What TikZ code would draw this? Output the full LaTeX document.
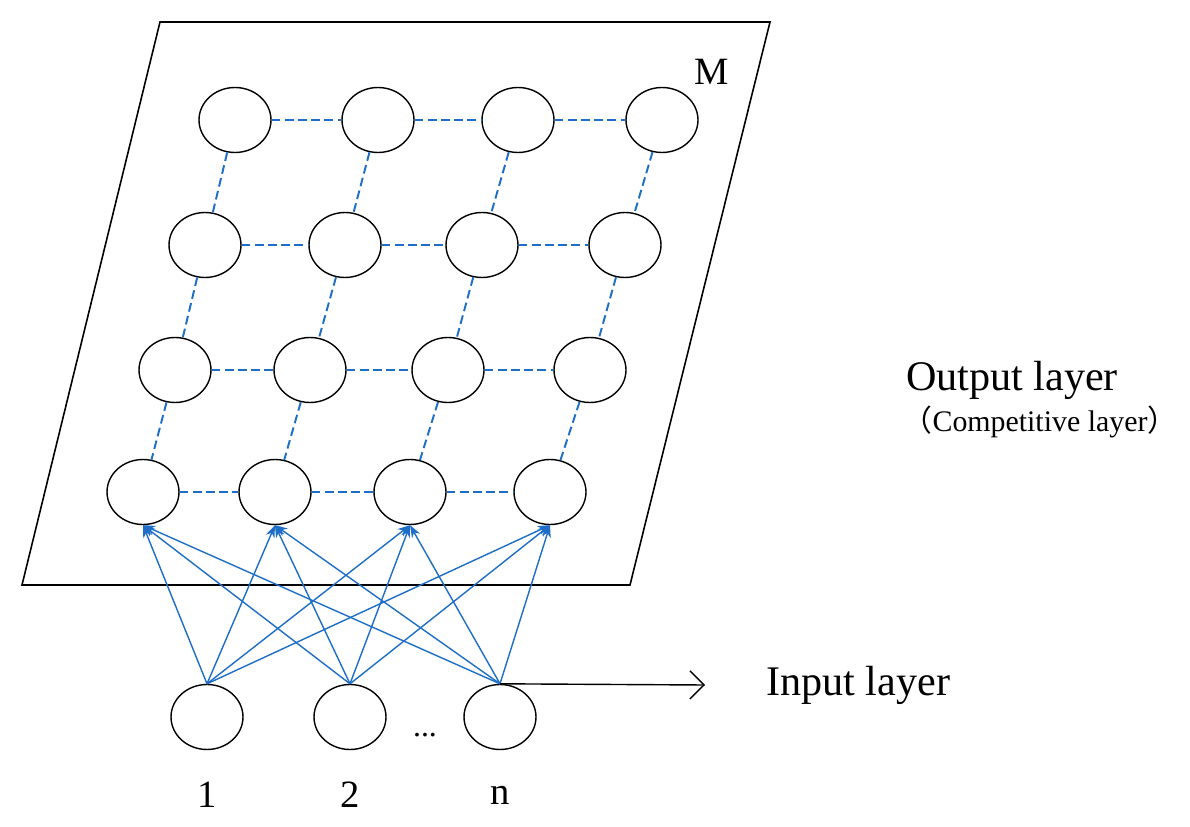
\documentclass[tikz,border=0pt]{standalone}
\usepackage{fontspec}
\setmainfont{Liberation Serif}
\newfontfamily\cjk{Noto Sans CJK SC}
\usetikzlibrary{positioning,shapes.geometric,arrows.meta}
\definecolor{linkblue}{RGB}{30,110,200}
\tikzset{
	neuron/.style={draw, ellipse, minimum width=1.44cm, minimum height=1.3cm, line width=0.8pt},
	lateral/.style={draw=linkblue, dash pattern=on 5pt off 2.5pt, line width=1.1pt},
	weight/.style={draw=linkblue, line width=0.8pt, -{Stealth[length=7pt]}},
}
\begin{document}
\begin{tikzpicture}[x=0.02cm, y=-0.02cm]
	\useasboundingbox (0,0) rectangle (1190,827);
	% competitive plane
	\draw[line width=0.9pt] (160,22) -- (770,22) -- (630,585) -- (22,585) -- cycle;
	\node[font=\fontsize{22}{24}\selectfont] at (712,72) {M};
	% output grid
	\foreach \r/\y/\xa/\xb/\xc/\xd in {1/120/235/378/518/662, 2/245/205/345/482/625, 3/370/175/310/448/590, 4/492/143/275/410/550}
	{
		\node[neuron] (o\r-1) at (\xa,\y) {};
		\node[neuron] (o\r-2) at (\xb,\y) {};
		\node[neuron] (o\r-3) at (\xc,\y) {};
		\node[neuron] (o\r-4) at (\xd,\y) {};
	}
	\foreach \r in {1,...,4}
		\foreach \c/\d in {1/2,2/3,3/4}
			\draw[lateral] (o\r-\c) -- (o\r-\d);
	\foreach \r/\s in {1/2,2/3,3/4}
		\foreach \c in {1,...,4}
			\draw[lateral] (o\r-\c) -- (o\s-\c);
	% input layer
	\node[neuron] (in1) at (207,717) {};
	\node[neuron] (in2) at (350,717) {};
	\node[neuron] (in3) at (500,717) {};
	\node[font=\fontsize{22}{24}\selectfont] at (207,795) {1};
	\node[font=\fontsize{22}{24}\selectfont] at (350,795) {2};
	\node[font=\fontsize{22}{24}\selectfont] at (500,795) {n};
	\node[font=\fontsize{18}{20}\selectfont] at (425,735) {...};
	\foreach \i in {1,2,3}
		\foreach \c in {1,...,4}
			\draw[weight] (in\i.north) -- (o4-\c.south);
	\coordinate (inarrow) at (705,685);
	\draw[-{Straight Barb[length=8pt]}, line width=0.8pt] (in3.north) -- (inarrow);
	\node[font=\fontsize{24}{26}\selectfont, anchor=west] at (760,685) {Input layer};
	\node[font=\fontsize{24}{26}\selectfont] at (1012,380) {Output layer};
	\node[font=\fontsize{17}{19}\selectfont] at (1040,422) {{\cjk （}Competitive layer{\cjk ）}};
\end{tikzpicture}
\end{document}
